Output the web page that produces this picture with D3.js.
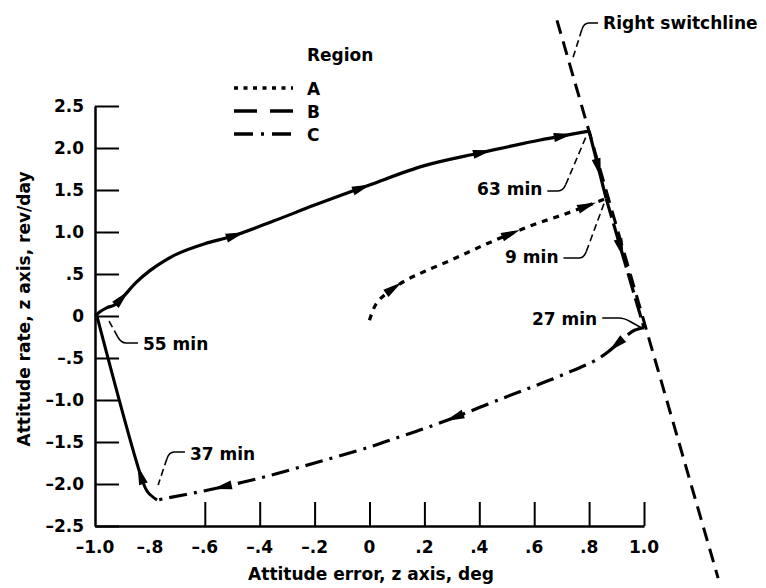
<!DOCTYPE html>
<html><head><meta charset="utf-8">
<script src="https://cdn.jsdelivr.net/npm/d3@7"></script>
<style>
body{margin:0;background:#fff;}
text{font-family:"DejaVu Sans",sans-serif;font-weight:bold;font-size:17px;fill:#000;}
</style></head>
<body><svg id="c" width="766" height="588"></svg>
<script>
// ---- data ----
const xTickValues = [-0.6,-0.4,-0.2,0,0.2,0.4,0.6,0.8,1.0];
const xLabelValues = [-1.0,-0.8,-0.6,-0.4,-0.2,0,0.2,0.4,0.6,0.8,1.0];
const xTickLabels = ["\u20131.0","\u2013.8","\u2013.6","\u2013.4","\u2013.2","0",".2",".4",".6",".8","1.0"];
const yTickValues = [2.5,2.0,1.5,1.0,0.5,0,-0.5,-1.0,-1.5,-2.0,-2.5];
const yTickLabels = ["2.5","2.0","1.5","1.0",".5","0","\u2013.5","\u20131.0","\u20131.5","\u20132.0","\u20132.5"];
const legendLabels = ["A","B","C"];

// trajectory segments [attitude error deg, attitude rate rev/day]
const arcTop = [[-1.0,0.0],[-0.982,0.05],[-0.956,0.10],[-0.93,0.13],[-0.90,0.22],[-0.85,0.40],[-0.80,0.54],[-0.75,0.65],[-0.70,0.74],[-0.60,0.86],[-0.50,0.95],[-0.35,1.13],[-0.2,1.32],[0,1.56],[0.2,1.79],[0.4,1.94],[0.6,2.08],[0.80,2.20]];
const switchDrop = [[0.80,2.20],[0.862,1.40]];
const switchDash = [[0.862,1.40],[1.0,-0.14]];
const regionA = [[0.0,-0.05],[0.025,0.15],[0.07,0.29],[0.13,0.42],[0.2,0.53],[0.3,0.67],[0.4,0.82],[0.5,0.96],[0.6,1.09],[0.7,1.20],[0.8,1.32],[0.862,1.40]];
const regionC = [[1.0,-0.14],[0.965,-0.17],[0.935,-0.24],[0.90,-0.34],[0.86,-0.45],[0.81,-0.55],[0.74,-0.65],[0.66,-0.76],[0.58,-0.86],[0.5,-0.96],[0.4,-1.09],[0.3,-1.22],[0.2,-1.34],[0.1,-1.45],[0,-1.56],[-0.2,-1.75],[-0.4,-1.93],[-0.6,-2.08],[-0.774,-2.19]];
const leftRise = [[-0.774,-2.19],[-0.807,-2.10],[-0.825,-1.98],[-0.993,0.0]];
const switchLine = [[0.683,3.52],[1.27,-3.12]];

const arcArrows = [[-0.902,0.21],[-0.49,0.97],[-0.03,1.53],[0.41,1.95],[0.705,2.14]];
const aArrows = [[0.086,0.33],[0.512,1.0],[0.792,1.30]];
const dropArrows = [[0.835,1.77]];
const dashArrows = [[0.925,0.82]];
const cArrows = [[0.902,-0.35],[0.311,-1.21],[-0.534,-2.04]];
const leftArrows = [[-0.825,-1.89]];

const annLabels = ["Right switchline","63 min","9 min","27 min","55 min","37 min"];
const annText = [[0.851,3.417],[0.392,1.44],[0.494,0.63],[0.592,-0.107],[-0.825,-0.405],[-0.654,-1.714]];
const annCorner = [[0.781,3.488],[0.705,1.488],[0.781,0.690],[0.927,-0.024],[-0.905,-0.321],[-0.730,-1.619]];
const annTarget = [[0.741,3.071],[0.793,2.167],[0.855,1.345],[0.992,-0.143],[-0.953,-0.036],[-0.770,-2.012]];
const annDashed = [true,true,true,false,true,true];

// ---- drawing ----
const svg = d3.select("#c");
svg.append("rect").attr("width",766).attr("height",588).attr("fill","#fff");
const x = d3.scaleLinear().domain([-1,1]).range([95,644]);
const y = d3.scaleLinear().domain([-2.5,2.5]).range([526,106]);

// axes
const gy = svg.append("g").attr("transform","translate(95,0)")
  .call(d3.axisLeft(y).tickValues(yTickValues).tickSize(-24).tickSizeOuter(0).tickPadding(11)
    .tickFormat((d,i)=>yTickLabels[i]));
const gx = svg.append("g").attr("transform","translate(0,526)")
  .call(d3.axisBottom(x).tickValues(xTickValues).tickSize(-24).tickSizeOuter(0).tickFormat(""));
[gx,gy].forEach(g=>{
  g.select(".domain").attr("stroke","#000").attr("stroke-width",2.5);
  g.selectAll(".tick line").attr("stroke","#000").attr("stroke-width",2);
  g.attr("font-family",null).attr("font-size",null);
});
gy.selectAll(".tick text").attr("fill","#000");
svg.append("g").selectAll("text").data(xLabelValues).join("text")
  .attr("x",d=>x(d)).attr("y",553).attr("text-anchor","middle")
  .text((d,i)=>xTickLabels[i]);

svg.append("text").attr("x",371).attr("y",580).attr("text-anchor","middle").text("Attitude error, z axis, deg");
svg.append("text").attr("transform","translate(30,309) rotate(-90)").attr("text-anchor","middle").text("Attitude rate, z axis, rev/day");

// legend
svg.append("text").attr("x",307).attr("y",61).text("Region");
const legDash = ["4,5.5","23,13","19,8,3,8"];
[0,1,2].forEach(i=>{
  const yy = 88 + i*23;
  svg.append("line").attr("x1",234).attr("x2",293).attr("y1",yy).attr("y2",yy)
    .attr("stroke","#000").attr("stroke-width",3.5).attr("stroke-dasharray",legDash[i]);
  svg.append("text").attr("x",307).attr("y",yy+7).text(legendLabels[i]);
});

const line = d3.line().x(d=>x(d[0])).y(d=>y(d[1])).curve(d3.curveCatmullRom.alpha(0.5));
const straight = d3.line().x(d=>x(d[0])).y(d=>y(d[1]));

function seg(data, dash, w, gen){
  return svg.append("path").attr("d",(gen||line)(data)).attr("fill","none")
    .attr("stroke","#000").attr("stroke-width",w||3).attr("stroke-dasharray",dash||null)
    .attr("stroke-linecap","butt").attr("stroke-linejoin","round");
}
function arrows(p, pts){
  const node = p.node(), L = node.getTotalLength();
  pts.forEach(pt=>{
    const px=x(pt[0]), py=y(pt[1]);
    let best=0, bd=Infinity;
    for(let l=0;l<=L;l+=0.5){const q=node.getPointAtLength(l);const d=(q.x-px)**2+(q.y-py)**2;if(d<bd){bd=d;best=l;}}
    const a=node.getPointAtLength(Math.max(0,best-4)), b=node.getPointAtLength(Math.min(L,best+4));
    const ang=Math.atan2(b.y-a.y,b.x-a.x)*180/Math.PI;
    const c=node.getPointAtLength(best);
    svg.append("path").attr("d","M10,0 L-9,-4.5 L-9,4.5 Z").attr("fill","#000")
      .attr("transform",`translate(${c.x},${c.y}) rotate(${ang})`);
  });
}

seg(switchLine,"14,8",3,straight);
const pArc = seg(arcTop,null,3.2); arrows(pArc, arcArrows);
const pDrop = seg(switchDrop,null,3.2,straight); arrows(pDrop, dropArrows);
const pDash = seg(switchDash,"20,6",3.2,straight); arrows(pDash, dashArrows);
const pA = seg(regionA,"6,6",3.2); arrows(pA, aArrows);
const pC = seg(regionC,"18,7,3,7",3.2); arrows(pC, cArrows);
const pL = seg(leftRise,null,3); arrows(pL, leftArrows);

// annotations
annLabels.forEach((lab,i)=>{
  const t = svg.append("text").attr("x",x(annText[i][0])).attr("y",y(annText[i][1])).text(lab);
  const bb = t.node().getBBox();
  const cx = x(annCorner[i][0]), cy = y(annCorner[i][1]);
  const tx = x(annTarget[i][0]), ty = y(annTarget[i][1]);
  const right = cx > bb.x + bb.width/2;
  const sx = right ? bb.x + bb.width + 5 : bb.x - 5;
  const dir = right ? 1 : -1;
  const vx = tx-cx, vy = ty-cy, vl = Math.hypot(vx,vy);
  const ex = cx + vx/vl*7, ey = cy + vy/vl*7;
  svg.append("path").attr("d",`M${sx},${cy} L${cx-dir*5},${cy} Q${cx},${cy} ${ex},${ey}`)
    .attr("fill","none").attr("stroke","#000").attr("stroke-width",1.6);
  svg.append("path").attr("d",`M${ex},${ey} L${tx},${ty}`)
    .attr("fill","none").attr("stroke","#000").attr("stroke-width",1.6)
    .attr("stroke-dasharray",annDashed[i]?"7,4":null);
});
</script></body></html>
